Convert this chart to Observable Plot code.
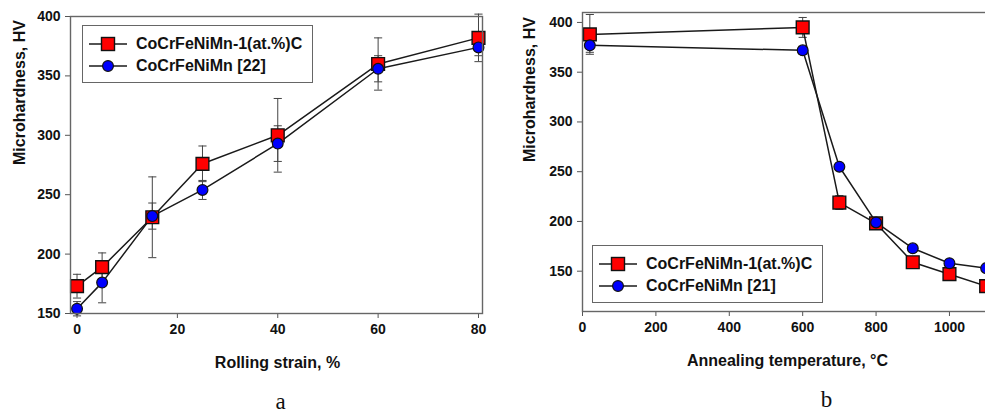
<!DOCTYPE html>
<html>
<head>
<meta charset="utf-8">
<script src="https://cdn.jsdelivr.net/npm/d3@7"></script>
<script src="https://cdn.jsdelivr.net/npm/@observablehq/plot@0.6"></script>
<style>
  html, body { margin: 0; padding: 0; background: #fff; }
  #wrap { position: relative; width: 985px; height: 414px; overflow: hidden; font-family: "Liberation Sans", Arial, sans-serif; }
  .panel { position: absolute; top: 0; }
  .legend { position: absolute; border: 1.5px solid #666; box-sizing: border-box; background: #fff; }
  .row { position: absolute; left: 6px; display: flex; align-items: center; font-weight: bold; font-size: 16px; color: #111; white-space: nowrap; }
  .row svg { margin-right: 9px; }
</style>
</head>
<body>
<div id="wrap"></div>
<script>
// ---- Data ----
const seriesNames = ["CoCrFeNiMn-1(at.%)C", "CoCrFeNiMn"];
const refLeft = "[22]";
const refRight = "[21]";

// Panel a: rolling strain, %
const strain = [0, 5, 15, 25, 40, 60, 80];
const hvCarbonStrain = [173, 189, 231, 276, 300, 360, 382];
const errCarbonStrain = [10, 12, 34, 15, 31, 22, 20];
const hvBaseStrain = [154, 176, 232, 254, 293, 356, 374];
const errBaseStrain = [6, 17, 11, 8, 15, 11, 7];

// Panel b: annealing temperature, °C
const temperature = [20, 600, 700, 800, 900, 1000, 1100];
const hvCarbonTemp = [388, 395, 219, 198, 159, 147, 135];
const errCarbonTemp = [20, 10, 7, 4, 4, 4, 4];
const hvBaseTemp = [377, 372, 255, 199, 173, 158, 153];
const errBaseTemp = [7, 4, 3, 3, 3, 3, 3];

const yTicks = [150, 200, 250, 300, 350, 400];
const xTicksA = [0, 20, 40, 60, 80];
const xTicksB = [0, 200, 400, 600, 800, 1000];

// ---- Helpers ----
function rows(xs, ys, es) { return xs.map((x, i) => ({x, y: ys[i], e: es[i]})); }
const capSymbol = {
  draw(context, size) {
    const w = Math.sqrt(size);
    context.moveTo(-w / 2, 0);
    context.lineTo(w / 2, 0);
  }
};
const RED = "#ff0000", BLUE = "#0000ff";

function panel({carbon, base, xDomain, yDomain, xTicks, width, marginLeft, marginRight, marginTop, marginBottom, xLabel, labelDx, yLabelDx, tag, tagDx}) {
  const errMarks = (d) => [
    Plot.ruleX(d, {x: "x", y1: (r) => r.y - r.e, y2: (r) => r.y + r.e, stroke: "#444", strokeWidth: 1}),
    Plot.dot(d, {x: "x", y: (r) => r.y + r.e, symbol: capSymbol, r: 4.6, stroke: "#444", strokeWidth: 1, fill: "none"}),
    Plot.dot(d, {x: "x", y: (r) => r.y - r.e, symbol: capSymbol, r: 4.6, stroke: "#444", strokeWidth: 1, fill: "none"})
  ];
  return Plot.plot({
    width, height: 414,
    marginLeft, marginRight, marginTop, marginBottom,
    style: {fontFamily: "'Liberation Sans', Arial, sans-serif", fontSize: "14px", fontWeight: "bold", color: "#111", background: "transparent", overflow: "visible"},
    x: {domain: xDomain, label: null},
    y: {domain: yDomain, label: null},
    marks: [
      Plot.axisX({ticks: xTicks, tickFormat: d3.format("d"), tickSize: 5, tickPadding: 6, label: null, stroke: "#555"}),
      Plot.axisY({ticks: yTicks, tickFormat: d3.format("d"), tickSize: 5, tickPadding: 5, label: null, stroke: "#555"}),
      ...errMarks(carbon),
      ...errMarks(base),
      Plot.line(carbon, {x: "x", y: "y", stroke: "#1a1a1a", strokeWidth: 1.5}),
      Plot.line(base, {x: "x", y: "y", stroke: "#1a1a1a", strokeWidth: 1.5}),
      Plot.dot(carbon, {x: "x", y: "y", symbol: "square", r: 7.2, fill: RED, stroke: "#111", strokeWidth: 1.4}),
      Plot.dot(base, {x: "x", y: "y", symbol: "circle", r: 5.4, fill: BLUE, stroke: "#111", strokeWidth: 1.2}),
      Plot.frame({stroke: "#666", strokeWidth: 1.4}),
      Plot.text([xLabel], {frameAnchor: "bottom", dy: 49, dx: labelDx, fontSize: 16, lineAnchor: "middle"}),
      Plot.text(["Microhardness, HV"], {frameAnchor: "left", dx: yLabelDx, rotate: -90, fontSize: 16, lineAnchor: "middle"}),
      Plot.text([tag], {frameAnchor: "bottom", dy: 95, dx: tagDx, fontSize: 23, fontWeight: "normal", lineAnchor: "bottom", fontFamily: "'Liberation Serif', 'Times New Roman', serif"})
    ]
  });
}

function symbolSvg(kind) {
  const svg = d3.create("svg").attr("width", 38).attr("height", 16);
  svg.append("line").attr("x1", 0).attr("x2", 38).attr("y1", 8).attr("y2", 8).attr("stroke", "#1a1a1a").attr("stroke-width", 1.5);
  if (kind === "square") {
    svg.append("rect").attr("x", 19 - 6.5).attr("y", 8 - 6.5).attr("width", 13).attr("height", 13).attr("fill", RED).attr("stroke", "#111").attr("stroke-width", 1.4);
  } else {
    svg.append("circle").attr("cx", 19).attr("cy", 8).attr("r", 5.4).attr("fill", BLUE).attr("stroke", "#111").attr("stroke-width", 1.2);
  }
  return svg.node();
}

function legend(left, top, ref) {
  const box = document.createElement("div");
  box.className = "legend";
  Object.assign(box.style, {left: left + "px", top: top + "px", width: "231px", height: "58px"});
  [["square", seriesNames[0]], ["circle", seriesNames[1] + " " + ref]].forEach(([k, label], i) => {
    const row = document.createElement("div");
    row.className = "row";
    row.style.top = (i === 0 ? 9 : 31) + "px";
    row.appendChild(symbolSvg(k));
    const span = document.createElement("span");
    span.textContent = label;
    row.appendChild(span);
    box.appendChild(row);
  });
  return box;
}

const wrap = document.getElementById("wrap");

const left = panel({
  carbon: rows(strain, hvCarbonStrain, errCarbonStrain),
  base: rows(strain, hvBaseStrain, errBaseStrain),
  xDomain: [-1.3, 80.8], yDomain: [150, 400], xTicks: xTicksA,
  width: 490, marginLeft: 70, marginRight: 8, marginTop: 16, marginBottom: 101,
  xLabel: "Rolling strain, %", labelDx: 1, yLabelDx: -51, tag: "a", tagDx: 4
});
left.classList.add("panel");
left.style.left = "0px";
wrap.appendChild(left);

const right = panel({
  carbon: rows(temperature, hvCarbonTemp, errCarbonTemp),
  base: rows(temperature, hvBaseTemp, errBaseTemp),
  xDomain: [0, 1150], yDomain: [109.5, 410], xTicks: xTicksB,
  width: 520, marginLeft: 92, marginRight: 6, marginTop: 12, marginBottom: 103,
  xLabel: "Annealing temperature, °C", labelDx: -6, yLabelDx: -53, tag: "b", tagDx: 33
});
right.classList.add("panel");
right.style.left = "490px";
wrap.appendChild(right);

wrap.appendChild(legend(82, 25, refLeft));
wrap.appendChild(legend(592, 245, refRight));
</script>
</body>
</html>
